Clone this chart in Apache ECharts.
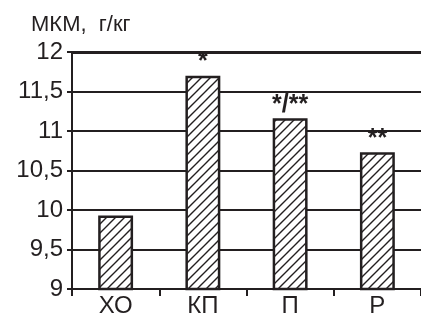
<!DOCTYPE html>
<html>
<head>
<meta charset="utf-8">
<script src="https://cdn.jsdelivr.net/npm/echarts@6/dist/echarts.min.js"></script>
<style>
html,body{margin:0;padding:0;background:#fff;}
#chart{width:421px;height:320px;}
</style>
</head>
<body>
<div id="chart"></div>
<script>
var categories = ['ХО', 'КП', 'П', 'Р'];
var values = [9.93, 11.70, 11.16, 10.73];
var annotations = ['', '*', '*/**', '**'];
var yTicks = [9, 9.5, 10, 10.5, 11, 11.5, 12];
var axisTitle = 'МКМ,  г/кг';

var ink = '#231f20';
var font = 'Liberation Sans, Arial, sans-serif';

function hatch() {
  var s = 9;
  var c = document.createElement('canvas');
  c.width = s; c.height = s;
  var g = c.getContext('2d');
  g.fillStyle = '#fff';
  g.fillRect(0, 0, s, s);
  g.strokeStyle = ink;
  g.lineWidth = 1.4;
  g.beginPath();
  g.moveTo(-1, s + 1); g.lineTo(s + 1, -1);
  g.moveTo(-1, 1); g.lineTo(1, -1);
  g.moveTo(s - 1, s + 1); g.lineTo(s + 1, s - 1);
  g.stroke();
  return c;
}

var chart = echarts.init(document.getElementById('chart'), null, {renderer: 'canvas', devicePixelRatio: 1});
chart.setOption({
  animation: false,
  backgroundColor: '#fff',
  title: {
    text: axisTitle,
    left: 26, top: 9,
    textStyle: {fontFamily: font, fontSize: 22, fontWeight: 'normal', color: ink}
  },
  grid: {left: 72, right: -4, top: 52, bottom: 31, containLabel: false},
  xAxis: {
    type: 'category',
    data: categories,
    boundaryGap: true,
    axisLine: {lineStyle: {color: ink, width: 2}},
    axisTick: {show: true, length: 7, lineStyle: {color: ink, width: 2}},
    axisLabel: {fontFamily: font, fontSize: 24, color: ink, margin: 5}
  },
  yAxis: {
    type: 'value',
    min: yTicks[0], max: yTicks[yTicks.length - 1], interval: 0.5,
    axisLine: {show: true, lineStyle: {color: ink, width: 2}},
    axisTick: {show: true, length: 5, lineStyle: {color: ink, width: 2}},
    splitLine: {show: true, lineStyle: {color: ink, width: 2}},
    axisLabel: {
      fontFamily: font, fontSize: 24, color: ink, margin: 9,
      padding: [6, 0, 0, 0],
      formatter: function (v) { return String(v).replace('.', ','); }
    }
  },
  series: [{
    type: 'bar',
    data: values.map(function (v, i) {
      return {value: v, label: {formatter: annotations[i]}};
    }),
    barWidth: '40%',
    itemStyle: {
      color: {image: hatch(), repeat: 'repeat'},
      borderColor: ink, borderWidth: 2.5
    },
    label: {
      show: true, position: 'top', distance: 1,
      fontFamily: font, fontSize: 25, fontWeight: 'bold', color: ink
    },
    markLine: {
      silent: true, symbol: 'none', label: {show: false},
      lineStyle: {color: ink, width: 3, type: 'solid'},
      data: [{yAxis: yTicks[yTicks.length - 1]}]
    }
  }]
});
</script>
</body>
</html>
